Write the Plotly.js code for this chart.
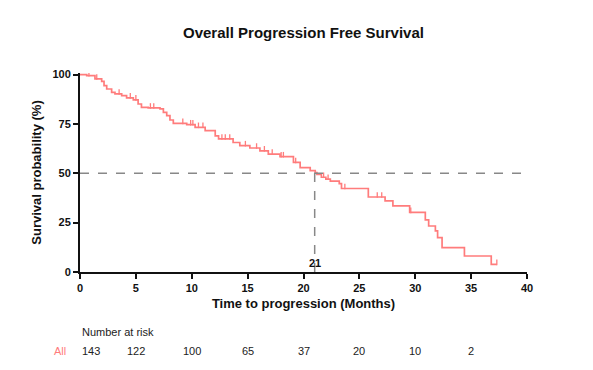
<!DOCTYPE html>
<html>
<head>
<meta charset="utf-8">
<script src="https://cdn.plot.ly/plotly-3.0.1.min.js"></script>
<style>html,body{margin:0;padding:0;background:#fff;}#chart{width:593px;height:370px;}</style>
</head>
<body>
<div id="chart"></div>
<script>
// Kaplan-Meier step points (time in months, survival %)
const stepTimes = [0, 0.6, 1.34, 1.94, 2.15, 2.39, 2.83, 3.13, 3.73, 4.17, 4.77, 5.2, 5.5, 6.1, 7.16, 7.46, 7.76, 8.05, 8.35, 9.55, 10.3, 11.2, 12.1, 12.4, 13.7, 14.3, 15.2, 16.1, 16.85, 17.9, 19.1, 19.7, 20.6, 21.05, 21.2, 21.6, 22.0, 22.4, 23.2, 23.4, 25.8, 27.3, 28.0, 29.5, 30.9, 31.2, 31.8, 32.0, 32.4, 34.4, 36.8, 37.3];
const stepSurv  = [100, 99.5, 97.8, 96.6, 94.4, 92.7, 91.0, 90.2, 89.3, 88.2, 87.2, 85.1, 83.4, 83.1, 82.6, 80.9, 79.2, 77.0, 75.3, 74.6, 73.3, 71.6, 69.0, 67.4, 65.6, 64.0, 62.8, 61.4, 59.7, 58.4, 55.5, 52.9, 51.3, 50.4, 49.5, 48.0, 47.0, 46.0, 44.8, 42.3, 38.0, 36.0, 33.5, 30.2, 26.4, 23.3, 20.8, 17.4, 12.3, 8.1, 3.9, 3.9];
// censored observations (months)
const censorTimes = [0.8, 1.5, 3.5, 4.5, 5.0, 6.3, 6.6, 9.2, 9.9, 10.1, 10.6, 11.0, 12.7, 13.0, 13.4, 14.8, 15.8, 16.5, 17.2, 18.0, 18.2, 19.3, 21.8, 22.2, 23.7, 26.6, 27.0, 29.6, 37.3];
// number at risk
const riskTimes = [0, 5, 10, 15, 20, 25, 30, 35];
const riskCounts = [143, 122, 100, 65, 37, 20, 10, 2];
const medianTime = 21;
const xTicks = [0, 5, 10, 15, 20, 25, 30, 35, 40];
const yTicks = [0, 25, 50, 75, 100];

const curveColor = '#FF7C7C';
function survAt(t){ let s = stepSurv[0]; for (let i=0;i<stepTimes.length;i++){ if (stepTimes[i] <= t) s = stepSurv[i]; } return s; }

const traces = [
  {x: stepTimes, y: stepSurv, mode: 'lines', line: {shape: 'hv', color: curveColor, width: 1.7}, hoverinfo: 'skip'},
  {x: censorTimes, y: censorTimes.map(t => survAt(t) + 1.0), mode: 'markers',
   marker: {symbol: 'line-ns-open', size: 4, color: curveColor, line: {color: curveColor, width: 1.3}}, hoverinfo: 'skip'}
];

const F = 'Liberation Sans, Arial, Helvetica, sans-serif';
const annotations = [
  {xref: 'paper', yref: 'paper', x: 0, y: -0.30, xanchor: 'left', yanchor: 'middle', text: 'Number at risk', showarrow: false, font: {family: F, size: 11, color: '#222'}},
  {xref: 'paper', yref: 'paper', x: -0.045, y: -0.397, xanchor: 'center', yanchor: 'middle', text: 'All', showarrow: false, font: {family: F, size: 11, color: curveColor}},
  {xref: 'x', yref: 'y', x: medianTime, y: 0, xanchor: 'center', yanchor: 'bottom', yshift: 1, text: '<b>' + medianTime + '</b>', showarrow: false, font: {family: F, size: 11, color: '#111'}}
];
riskTimes.forEach((t, i) => {
  annotations.push({xref: 'x', yref: 'paper', x: t, y: -0.397, xanchor: i === 0 ? 'left' : 'center', yanchor: 'middle',
    text: String(riskCounts[i]), showarrow: false, font: {family: F, size: 11, color: '#222'}});
});

const layout = {
  width: 593, height: 370,
  margin: {l: 80, r: 66, t: 73, b: 98},
  paper_bgcolor: '#fff', plot_bgcolor: '#fff',
  showlegend: false,
  title: {text: '<b>Overall Progression Free Survival</b>', x: 0.5, xref: 'paper', y: 1 - 33/370, yref: 'container', yanchor: 'middle', font: {family: F, size: 15, color: '#111'}},
  xaxis: {range: [0, 40], tickvals: xTicks, ticktext: xTicks.map(v => '<b>' + v + '</b>'), showgrid: false, zeroline: false,
    showline: true, linecolor: '#111', linewidth: 2, ticks: 'outside', ticklen: 5, tickwidth: 2, tickcolor: '#111',
    tickfont: {family: F, size: 11, color: '#111'},
    title: {text: '<b>Time to progression (Months)</b>', font: {family: F, size: 13, color: '#111'}, standoff: 6}},
  yaxis: {range: [0, 100.8], tickvals: yTicks, ticktext: yTicks.map(v => '<b>' + v + '</b>'), showgrid: false, zeroline: false,
    showline: true, linecolor: '#111', linewidth: 2, ticks: 'outside', ticklen: 5, tickwidth: 2, tickcolor: '#111',
    tickfont: {family: F, size: 11, color: '#111'},
    title: {text: '<b>Survival probability (%)</b>', font: {family: F, size: 13, color: '#111'}, standoff: 8}},
  shapes: [
    {type: 'line', xref: 'x', yref: 'y', x0: 0, x1: 40, y0: 50, y1: 50, line: {color: '#888', width: 1.5, dash: 'dash'}},
    {type: 'line', xref: 'x', yref: 'y', x0: medianTime, x1: medianTime, y0: 0, y1: 50, line: {color: '#888', width: 1.5, dash: 'dash'}}
  ],
  annotations: annotations
};
Plotly.newPlot('chart', traces, layout, {displayModeBar: false, staticPlot: true});
</script>
</body>
</html>
